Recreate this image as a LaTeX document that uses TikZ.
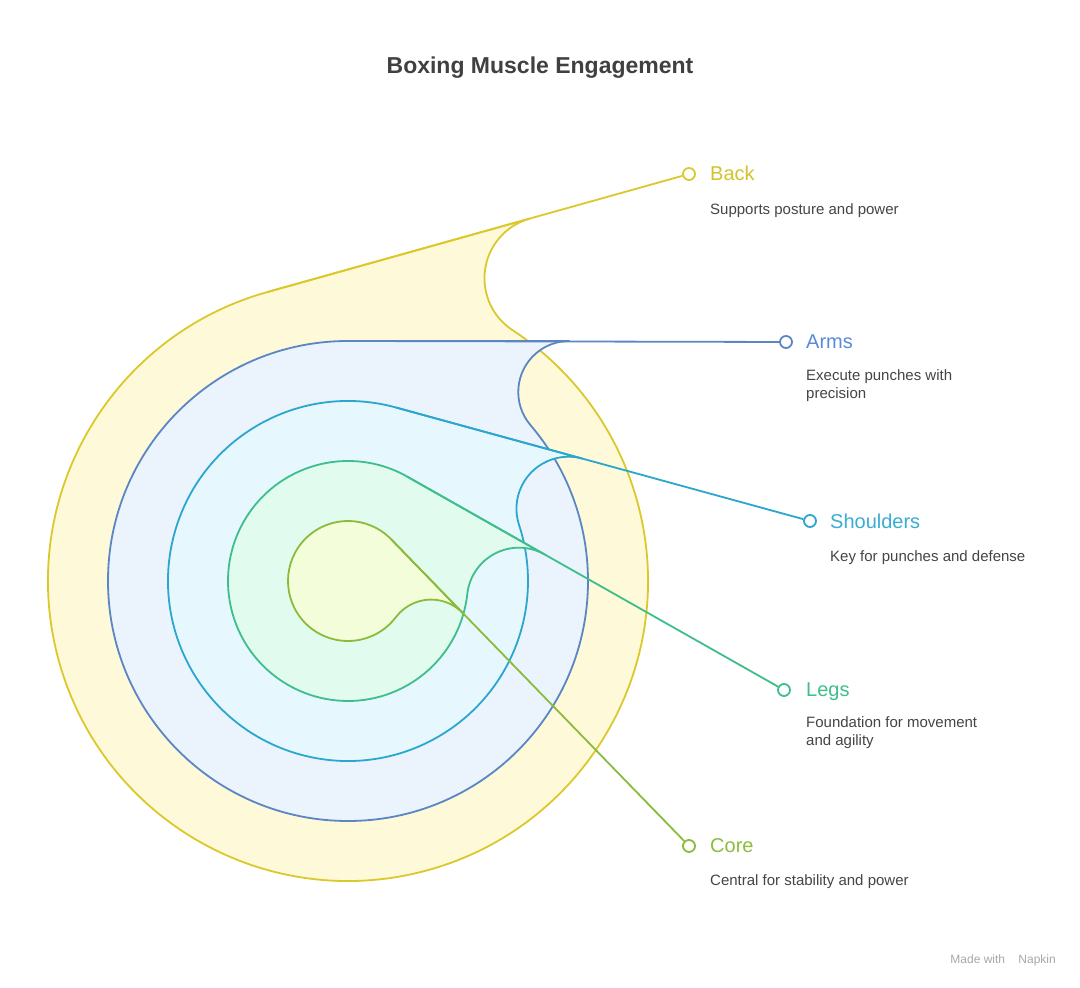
\documentclass[tikz,border=0pt]{standalone}
\usepackage{fontspec}
\setmainfont{Liberation Sans}
\usetikzlibrary{calc}
\definecolor{backc}{HTML}{DBC92C}
\definecolor{backf}{HTML}{FDF9D9}
\definecolor{backt}{HTML}{D3C32A}
\definecolor{armsc}{HTML}{5B86C4}
\definecolor{armsf}{HTML}{EBF3FD}
\definecolor{armst}{HTML}{5A8BD8}
\definecolor{shouc}{HTML}{2BA6CE}
\definecolor{shouf}{HTML}{E6F8FE}
\definecolor{shout}{HTML}{39ADD3}
\definecolor{legsc}{HTML}{3DBE8B}
\definecolor{legsf}{HTML}{E1FBEF}
\definecolor{legst}{HTML}{3FBF8A}
\definecolor{corec}{HTML}{8BBB3B}
\definecolor{coref}{HTML}{F4FDDA}
\definecolor{coret}{HTML}{8DBD3C}
\definecolor{desccol}{HTML}{454545}
\definecolor{titlecol}{HTML}{404040}
\definecolor{footcol}{HTML}{A8A8A8}
\begin{document}
\begin{tikzpicture}[x=1pt,y=1pt,
  marker/.style={circle, draw, fill=white, line width=1.8pt, minimum size=12pt, inner sep=0pt},
  shapeline/.style={line width=1.8pt, line join=round},
  conn/.style={line width=1.8pt},
  lbl/.style={anchor=base west, inner sep=0pt, font=\fontsize{20}{24}\selectfont},
  desc/.style={inner sep=0pt, font=\fontsize{15}{18}\selectfont, text=desccol, align=left}]
\fill[white] (0,0) rectangle (1080,988);
\useasboundingbox (0,0) rectangle (1080,988);
\coordinate (C) at (348,407);

% markers
\node[marker, draw=backc] (mback) at (689,814) {};
\node[marker, draw=armsc] (marms) at (786,646) {};
\node[marker, draw=shouc] (mshou) at (810,467) {};
\node[marker, draw=legsc] (mlegs) at (784,298) {};
\node[marker, draw=corec] (mcore) at (689,142) {};

% back
\filldraw[shapeline, draw=backc, fill=backf] ($(C)+(105.64:300)$) coordinate (tback)
  arc[start angle=105.64, end angle=416.75, radius=300]
  arc[start angle=236.75, end angle=105.64, radius=62] -- cycle;
\draw[conn, draw=backc] (tback) -- (mback);

% arms
\filldraw[shapeline, draw=armsc, fill=armsf] ($(C)+(90:240)$) coordinate (tarms)
  arc[start angle=90, end angle=400.5, radius=240]
  arc[start angle=220.5, end angle=90, radius=51] -- cycle;
\draw[conn, draw=armsc] (tarms) -- (marms);

% shoulders
\filldraw[shapeline, draw=shouc, fill=shouf] ($(C)+(74.67:180)$) coordinate (tshou)
  arc[start angle=74.67, end angle=378.15, radius=180]
  arc[start angle=198.15, end angle=74.67, radius=52] -- cycle;
\draw[conn, draw=shouc] (tshou) -- (mshou);

% legs
\filldraw[shapeline, draw=legsc, fill=legsf] ($(C)+(60.47:120)$) coordinate (tlegs)
  arc[start angle=60.47, end angle=353.76, radius=120]
  arc[start angle=173.76, end angle=60.47, radius=52] -- cycle;
\draw[conn, draw=legsc] (tlegs) -- (mlegs);

% core
\filldraw[shapeline, draw=corec, fill=coref] ($(C)+(44.16:60)$) coordinate (tcore)
  arc[start angle=44.16, end angle=323.0, radius=60]
  arc[start angle=143.0, end angle=44.16, radius=44] -- cycle;
\draw[conn, draw=corec] (tcore) -- (mcore);

% title
\node[anchor=base, inner sep=0pt, font=\fontsize{23}{28}\selectfont\bfseries, text=titlecol] (title) at (540,914) {Boxing Muscle Engagement};

% labels
\node[lbl, text=backt] (lback) at (710,807) {Back};
\node[desc, anchor=base west] (dback) at (710,773) {Supports posture and power};

\node[lbl, text=armst] (larms) at (806,639) {Arms};
\node[desc, anchor=north west] (darms) at (806,619) {Execute punches with\\precision};

\node[lbl, text=shout] (lshou) at (830,459) {Shoulders};
\node[desc, anchor=base west] (dshou) at (830,426) {Key for punches and defense};

\node[lbl, text=legst] (llegs) at (806,291) {Legs};
\node[desc, anchor=north west] (dlegs) at (806,272) {Foundation for movement\\and agility};

\node[lbl, text=coret] (lcore) at (710,135) {Core};
\node[desc, anchor=base west] (dcore) at (710,102) {Central for stability and power};

% footer
\node[anchor=base east, inner sep=0pt, font=\fontsize{12}{14}\selectfont, text=footcol] (foot) at (1056,24) {Made with \ \ \ Napkin};
\end{tikzpicture}
\end{document}
